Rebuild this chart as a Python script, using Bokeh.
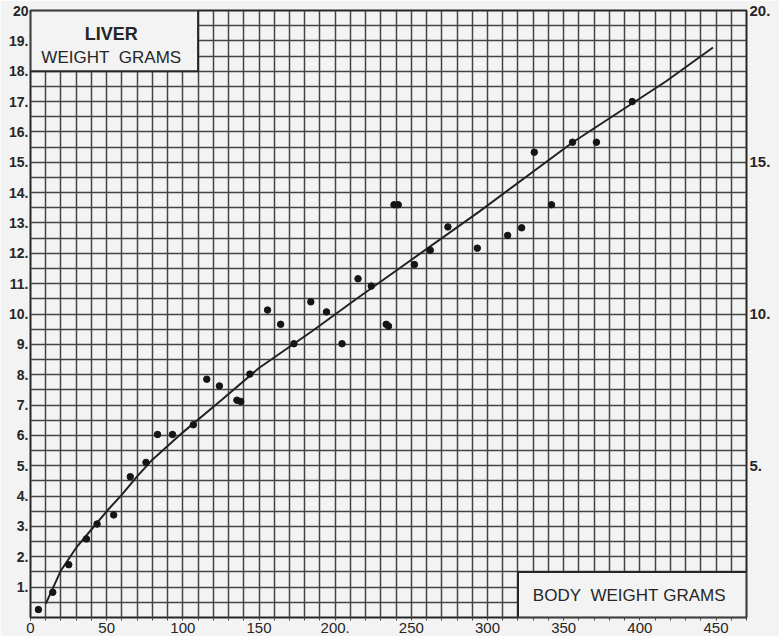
from bokeh.plotting import figure
from bokeh.models import FixedTicker, LinearAxis, Label
from bokeh.embed import file_html
from bokeh.resources import INLINE

# ---- data ----
body_weight = [5.2, 14.6, 25.1, 36.7, 43.7, 54.6, 65.5, 75.8, 83.4, 93.2, 106.9,
               115.7, 124.0, 135.5, 138.0, 144.0, 155.6, 164.2, 172.9, 184.0, 194.3,
               204.5, 215.0, 223.7, 233.5, 235.0, 238.6, 241.4, 252.0, 262.4, 274.0,
               293.3, 313.2, 322.4, 330.7, 342.0, 355.8, 371.5, 395.0]
liver_weight = [0.26, 0.83, 1.74, 2.59, 3.08, 3.38, 4.64, 5.11, 6.03, 6.03, 6.35,
                7.85, 7.63, 7.16, 7.12, 8.02, 10.13, 9.66, 9.02, 10.40, 10.07,
                9.02, 11.16, 10.92, 9.66, 9.60, 13.60, 13.60, 11.63, 12.10, 12.87,
                12.17, 12.59, 12.84, 15.33, 13.60, 15.66, 15.66, 17.00]

curve_x = [10, 20, 30, 40, 50, 60, 70, 80, 100, 125, 150, 185, 212, 242, 295, 356, 417, 448]
curve_y = [0.45, 1.55, 2.3, 2.9, 3.5, 4.05, 4.65, 5.2, 6.1, 7.15, 8.22, 9.44, 10.43,
           11.5, 13.39, 15.66, 17.66, 18.78]

x_ticks = [0, 50, 100, 150, 200, 250, 300, 350, 400, 450]
x_tick_labels = {200: "200."}
left_ticks = list(range(1, 21))
left_tick_labels = {t: (str(t) if t == 20 else f"{t}.") for t in left_ticks}
right_ticks = [5, 10, 15, 20]
right_tick_labels = {t: f"{t}." for t in right_ticks}

NB = "\u00a0"
y_title = ["LIVER", "WEIGHT" + NB + NB + "GRAMS"]
x_title = "BODY" + NB + NB + "WEIGHT" + NB + "GRAMS"

FONT = "Liberation Sans"
INK = "#262626"
GRID = "#444444"
PAPER = "#f3f3f3"

p = figure(width=779, height=636, x_range=(0, 470), y_range=(0, 20),
           output_backend="svg", toolbar_location=None,
           min_border_left=30, min_border_right=33, min_border_top=10, min_border_bottom=19)
p.background_fill_color = PAPER
p.border_fill_color = PAPER
p.outline_line_color = INK
p.outline_line_width = 2

# grid like graph paper
p.xgrid.ticker = FixedTicker(ticks=list(range(0, 471, 10)))
p.ygrid.ticker = FixedTicker(ticks=[i * 0.5 for i in range(41)])
for g in (p.xgrid, p.ygrid):
    g.grid_line_color = GRID
    g.grid_line_width = 1.5
    g.grid_line_alpha = 1.0

# bottom axis
xa = p.xaxis[0]
xa.ticker = FixedTicker(ticks=x_ticks, minor_ticks=list(range(0, 471, 10)))
xa.major_label_overrides = x_tick_labels
xa.axis_line_color = None
xa.major_tick_line_color = None
xa.major_tick_out = 0
xa.minor_tick_out = 3
xa.minor_tick_in = 0
xa.minor_tick_line_color = GRID
xa.major_label_standoff = 2
xa.major_label_text_font = FONT
xa.major_label_text_font_size = "15px"
xa.major_label_text_color = INK

# left axis
ya = p.yaxis[0]
ya.ticker = FixedTicker(ticks=left_ticks)
ya.major_label_overrides = left_tick_labels
ya.axis_line_color = None
ya.major_tick_line_color = None
ya.minor_tick_line_color = None
ya.major_tick_out = 0
ya.major_label_standoff = 2
ya.major_label_text_font = FONT
ya.major_label_text_font_style = "bold"
ya.major_label_text_font_size = "14px"
ya.major_label_text_color = INK

# right axis
ra = LinearAxis(ticker=FixedTicker(ticks=right_ticks))
ra.major_label_overrides = right_tick_labels
ra.axis_line_color = None
ra.major_tick_line_color = None
ra.minor_tick_line_color = None
ra.major_tick_out = 0
ra.major_label_standoff = 3
ra.major_label_text_font = FONT
ra.major_label_text_font_style = "bold"
ra.major_label_text_font_size = "15px"
ra.major_label_text_color = INK
p.add_layout(ra, "right")

# label boxes
p.quad(left=[0], right=[110], bottom=[18], top=[20], fill_color=PAPER,
       line_color=INK, line_width=2)
p.quad(left=[320], right=[470], bottom=[0], top=[1.5], fill_color=PAPER,
       line_color=INK, line_width=2)

p.add_layout(Label(x=53, y=19.22, text=y_title[0], text_font=FONT, text_font_style="bold",
                   text_font_size="18px", text_align="center", text_baseline="middle",
                   text_color=INK))
p.add_layout(Label(x=53, y=18.45, text=y_title[1], text_font=FONT,
                   text_font_size="17px", text_align="center", text_baseline="middle",
                   text_color=INK))
p.add_layout(Label(x=393, y=0.72, text=x_title, text_font=FONT,
                   text_font_size="17px", text_align="center", text_baseline="middle",
                   text_color=INK))

# fitted curve and observations
p.line(curve_x, curve_y, line_color="#222222", line_width=2)
p.scatter(body_weight, liver_weight, size=6.5, fill_color="#151515", line_color="#151515")

open("out.html", "w").write(file_html(p, INLINE))
